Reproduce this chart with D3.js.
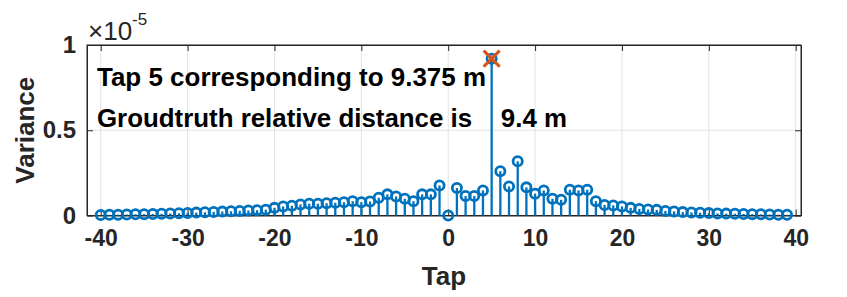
<html>

<head>
    <script src="https://cdn.jsdelivr.net/npm/d3@7"></script>
    <style>
        body { margin: 0; background: #fff; }
        text { font-family: "Liberation Sans", Arial, sans-serif; font-weight: bold; }
    </style>
</head>

<body>
    <svg id="container" width="847" height="297"></svg>
</body>
<script>
    // taps -40 .. 39, variance in units of 1e-5
    const taps = d3.range(-40, 40)
    const variance = [
        0.003, 0.004, 0.005, 0.006, 0.007, 0.008, 0.009, 0.010, 0.012, 0.013,
        0.015, 0.017, 0.019, 0.021, 0.023, 0.025, 0.027, 0.029, 0.031, 0.034,
        0.045, 0.053, 0.057, 0.065, 0.069, 0.069, 0.072, 0.075, 0.078, 0.084,
        0.078, 0.082, 0.104, 0.124, 0.112, 0.098, 0.084, 0.124, 0.124, 0.176,
        0.000, 0.161, 0.114, 0.114, 0.147, 0.920, 0.260, 0.170, 0.318, 0.165,
        0.128, 0.147, 0.098, 0.092, 0.151, 0.147, 0.151, 0.084, 0.062, 0.059,
        0.053, 0.045, 0.038, 0.035, 0.033, 0.027, 0.024, 0.020, 0.018, 0.016,
        0.014, 0.012, 0.011, 0.010, 0.009, 0.008, 0.007, 0.006, 0.005, 0.004
    ]
    const peakTap = 5
    const xTicks = [-40, -30, -20, -10, 0, 10, 20, 30, 40]
    const yTicks = [0, 0.5, 1]
    const exponent = "-5"
    const note1 = "Tap 5 corresponding to 9.375 m"
    const note2 = "Groudtruth relative distance is    9.4 m"

    const pLeft = 87, pRight = 801, pTop = 45, pBottom = 215.5
    const blue = "#0072BD", orange = "#D95319"

    let svg = d3.select("#container")
    let x = d3.scaleLinear().domain([-41.58, 40.61]).range([pLeft, pRight])
    let y = d3.scaleLinear().domain([0, 1]).range([pBottom, pTop])

    // grid
    let grid = svg.append("g")
    grid.selectAll(".gx").data(xTicks).enter().append("line")
        .attr("x1", d => x(d)).attr("x2", d => x(d))
        .attr("y1", pTop).attr("y2", pBottom)
        .attr("stroke", "#e3e3e3").attr("stroke-width", 1)
    grid.selectAll(".gy").data(yTicks).enter().append("line")
        .attr("x1", pLeft).attr("x2", pRight)
        .attr("y1", d => y(d)).attr("y2", d => y(d))
        .attr("stroke", "#e3e3e3").attr("stroke-width", 1)

    // axes (ticks inward, box on all sides)
    let axisColor = "#262626"
    let xb = svg.append("g").attr("transform", `translate(0,${pBottom})`)
        .call(d3.axisBottom(x).tickValues(xTicks).tickSizeInner(-6).tickSizeOuter(0).tickPadding(14)
            .tickFormat(d => String(d)))
    svg.append("g").attr("transform", `translate(0,${pTop})`)
        .call(d3.axisTop(x).tickValues(xTicks).tickSizeInner(-6).tickSizeOuter(0).tickFormat(""))
    let yl = svg.append("g").attr("transform", `translate(${pLeft},0)`)
        .call(d3.axisLeft(y).tickValues(yTicks).tickSizeInner(-6).tickSizeOuter(0).tickPadding(11)
            .tickFormat(d => String(d)))
    svg.append("g").attr("transform", `translate(${pRight},0)`)
        .call(d3.axisRight(y).tickValues(yTicks).tickSizeInner(-6).tickSizeOuter(0).tickFormat(""))
    svg.selectAll(".domain").attr("stroke", axisColor).attr("stroke-width", 1)
    svg.selectAll(".tick line").attr("stroke", axisColor)
    svg.selectAll(".tick text").attr("fill", axisColor)
        .style("font-family", "Liberation Sans, Arial, sans-serif").style("font-weight", "bold")
    xb.selectAll(".tick text").attr("font-size", 23)
    yl.selectAll(".tick text").attr("font-size", 24)
    svg.append("rect").attr("x", pLeft).attr("y", pTop).attr("width", pRight - pLeft).attr("height", pBottom - pTop)
        .attr("fill", "none").attr("stroke", axisColor).attr("stroke-width", 1)

    // stems
    let data = taps.map((t, i) => ({ tap: t, v: variance[i] }))
    let stems = svg.append("g")
    stems.selectAll("line").data(data).enter().append("line")
        .attr("x1", d => x(d.tap)).attr("x2", d => x(d.tap))
        .attr("y1", y(0)).attr("y2", d => y(d.v))
        .attr("stroke", blue).attr("stroke-width", 2.3)
    stems.selectAll("circle").data(data).enter().append("circle")
        .attr("cx", d => x(d.tap)).attr("cy", d => y(d.v)).attr("r", 4.6)
        .attr("fill", "none").attr("stroke", blue).attr("stroke-width", 2.8)

    // peak marker
    let peak = data.find(d => d.tap == peakTap)
    let px = x(peak.tap), py = y(peak.v), s = 8
    svg.append("path")
        .attr("d", `M${px - s},${py - s}L${px + s},${py + s}M${px - s},${py + s}L${px + s},${py - s}`)
        .attr("stroke", orange).attr("stroke-width", 3).attr("fill", "none")

    // annotations
    svg.append("text").attr("x", 97).attr("y", 86).attr("font-size", 26).attr("fill", "#000")
        .attr("textLength", 389).attr("lengthAdjust", "spacingAndGlyphs").text(note1)
    svg.append("text").attr("x", 97).attr("y", 127).attr("font-size", 26).attr("fill", "#000")
        .attr("textLength", 470).attr("lengthAdjust", "spacingAndGlyphs")
        .style("white-space", "pre").text(note2)

    // exponent
    let ex = svg.append("text").attr("x", 88).attr("y", 40).attr("font-size", 26).attr("fill", axisColor)
        .style("font-weight", "normal")
    ex.append("tspan").text("×10")
    ex.append("tspan").attr("dy", -15).attr("font-size", 17).text(exponent)

    // axis labels
    svg.append("text").attr("x", (pLeft + pRight) / 2).attr("y", 285).attr("text-anchor", "middle")
        .attr("font-size", 26).attr("fill", axisColor).text("Tap")
    svg.append("text").attr("transform", `translate(34,${(pTop + pBottom) / 2}) rotate(-90)`)
        .attr("text-anchor", "middle").attr("font-size", 26).attr("fill", axisColor).text("Variance")
</script>

</html>
